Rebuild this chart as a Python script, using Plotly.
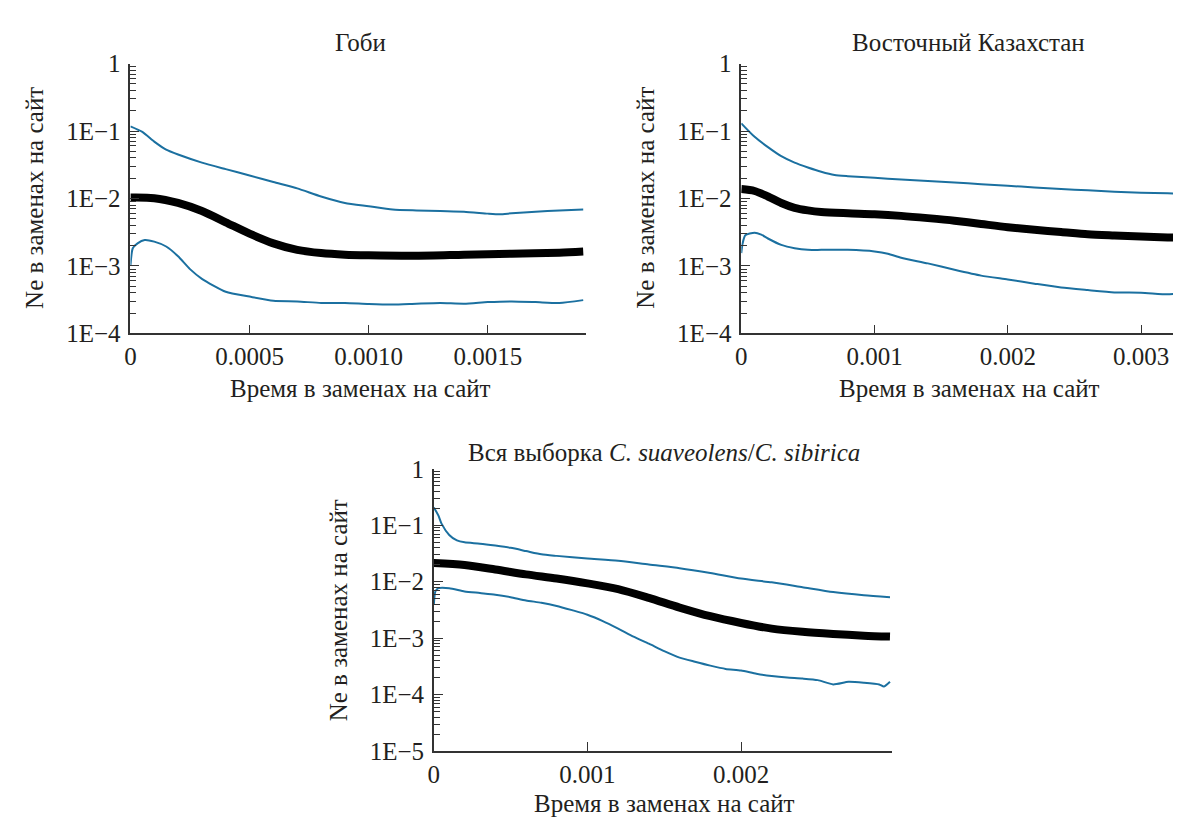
import plotly.graph_objects as go

# ---------------- data ----------------
# Panel 1: Гоби
gobi_med_t = [0, 0.0001, 0.0002, 0.0003, 0.0004, 0.0005, 0.0006, 0.0007, 0.0008, 0.0009,
              0.0010, 0.0012, 0.0014, 0.0016, 0.0018, 0.0019]
gobi_med = [0.0103, 0.0101, 0.00857, 0.0065, 0.00443, 0.00301, 0.00216, 0.00173, 0.00155, 0.00147,
            0.00144, 0.00142, 0.00147, 0.00152, 0.00157, 0.00163]
gobi_hi_t = [0, 0.00005, 0.0001, 0.00015, 0.0002, 0.0003, 0.0004, 0.0005, 0.0006, 0.0007, 0.0008,
             0.0009, 0.0010, 0.0011, 0.0012, 0.0013, 0.0014, 0.0015, 0.00155, 0.0016, 0.0017,
             0.0018, 0.0019]
gobi_hi = [0.117, 0.0968, 0.0695, 0.0528, 0.0448, 0.034, 0.0272, 0.0219, 0.0175, 0.0141, 0.0107,
           0.00857, 0.00767, 0.00687, 0.00665, 0.0065, 0.00637, 0.00596, 0.00583, 0.00603, 0.00637,
           0.00665, 0.00687]
gobi_lo_t = [0, 0.00001, 0.00003, 0.00006, 0.0001, 0.00015, 0.0002, 0.00025, 0.0003, 0.0004,
             0.0005, 0.0006, 0.0007, 0.0008, 0.0009, 0.0010, 0.0011, 0.0012, 0.0013, 0.0014,
             0.0015, 0.0016, 0.0017, 0.0018, 0.0019]
gobi_lo = [0.001, 0.00183, 0.00216, 0.00242, 0.00229, 0.00194, 0.00139, 0.000896, 0.000644,
           0.000414, 0.000351, 0.000304, 0.000298, 0.000282, 0.000282, 0.000272, 0.000267,
           0.000275, 0.000282, 0.000275, 0.000291, 0.000298, 0.000291, 0.000282, 0.000311]

# Panel 2: Восточный Казахстан
kz_med_t = [0, 0.0001, 0.0002, 0.0003, 0.0004, 0.0005, 0.0006, 0.0008, 0.001, 0.0012, 0.0014,
            0.0016, 0.0018, 0.002, 0.0022, 0.0024, 0.0026, 0.0028, 0.003, 0.0032, 0.00336]
kz_med = [0.01377, 0.0129, 0.0107, 0.00857, 0.00726, 0.00665, 0.0063, 0.00603, 0.00583, 0.00552,
          0.00511, 0.00468, 0.00419, 0.00375, 0.00343, 0.00318, 0.00294, 0.00282, 0.00272,
          0.00264, 0.00261]
kz_hi_t = [0, 0.0001, 0.0002, 0.0003, 0.0004, 0.0005, 0.0006, 0.0007, 0.0008, 0.001, 0.0012,
           0.0014, 0.0016, 0.0018, 0.002, 0.0022, 0.0024, 0.0026, 0.0028, 0.003, 0.0032, 0.00336]
kz_hi = [0.130, 0.082, 0.0577, 0.0424, 0.034, 0.0288, 0.0249, 0.0223, 0.0214, 0.0202, 0.0191,
         0.0181, 0.0172, 0.0163, 0.0154, 0.0146, 0.0138, 0.0132, 0.0126, 0.0122, 0.0119, 0.0119]
kz_lo_t = [0, 0.00001, 0.00003, 0.0001, 0.00015, 0.0002, 0.0003, 0.0004, 0.0005, 0.0006, 0.0008,
           0.001, 0.0011, 0.0012, 0.0014, 0.0016, 0.0018, 0.002, 0.0022, 0.0024, 0.0026, 0.0028,
           0.003, 0.0032, 0.0033, 0.00336]
kz_lo = [0.00155, 0.00216, 0.00285, 0.00311, 0.00291, 0.00255, 0.00205, 0.00183, 0.00173,
         0.00173, 0.00173, 0.00164, 0.00152, 0.00132, 0.00109, 0.000877, 0.000718, 0.000629,
         0.000546, 0.000478, 0.000438, 0.000405, 0.000401, 0.000379, 0.000392, 0.000363]

# Panel 3: вся выборка
all_med_t = [0, 0.0002, 0.0004, 0.0006, 0.0008, 0.001, 0.0012, 0.0014, 0.0016, 0.0018, 0.002,
             0.0022, 0.0024, 0.0026, 0.0028, 0.00297]
all_med = [0.0214, 0.0198, 0.0165, 0.0135, 0.0114, 0.00936, 0.0074, 0.00518, 0.00349, 0.00245,
           0.00186, 0.00148, 0.0013, 0.00119, 0.00111, 0.00107]
all_hi_t = [0, 0.00003, 0.00005, 0.0001, 0.00015, 0.0002, 0.0003, 0.0004, 0.0005, 0.0006, 0.0007,
            0.0008, 0.001, 0.0012, 0.0014, 0.0016, 0.0018, 0.002, 0.0022, 0.0024, 0.0026, 0.0028,
            0.00297]
all_hi = [0.206, 0.148, 0.107, 0.0674, 0.0539, 0.0498, 0.0472, 0.0436, 0.0398, 0.0349, 0.0306,
          0.0287, 0.0258, 0.0235, 0.0201, 0.0174, 0.0143, 0.0114, 0.00975, 0.008, 0.00656,
          0.00575, 0.00532]
all_lo_t = [0, 0.00001, 0.00003, 0.0001, 0.0002, 0.0003, 0.0004, 0.0005, 0.0006, 0.0007, 0.0008,
            0.0009, 0.001, 0.0011, 0.0012, 0.0013, 0.0014, 0.0015, 0.0016, 0.0017, 0.0018, 0.0019,
            0.002, 0.0021, 0.0022, 0.0023, 0.0024, 0.0025, 0.0026, 0.0027, 0.0028, 0.0029,
            0.00293, 0.00297]
all_lo = [0.00398, 0.00674, 0.00769, 0.00769, 0.00674, 0.00631, 0.0059, 0.00532, 0.00466, 0.00425,
          0.00373, 0.00314, 0.00261, 0.00201, 0.00148, 0.00107, 0.0008, 0.00059, 0.000454,
          0.000383, 0.000327, 0.000286, 0.000268, 0.000235, 0.000214, 0.000201, 0.000193,
          0.000181, 0.000152, 0.000169, 0.000163, 0.000152, 0.000139, 0.000169]

titles = ["Гоби", "Восточный Казахстан",
          "Вся выборка <i>C. suaveolens</i>/<i>C. sibirica</i>"]
x_title = "Время в заменах на сайт"
y_title = "Ne в заменах на сайт"

y_vals_4 = [1, 0.1, 0.01, 0.001, 0.0001]
y_text_4 = ["1", "1E−1", "1E−2", "1E−3", "1E−4"]
y_vals_5 = [1, 0.1, 0.01, 0.001, 0.0001, 0.00001]
y_text_5 = ["1", "1E−1", "1E−2", "1E−3", "1E−4", "1E−5"]

x1_vals = [0, 0.0005, 0.0010, 0.0015]
x1_text = ["0", "0.0005", "0.0010", "0.0015"]
x2_vals = [0, 0.001, 0.002, 0.003]
x2_text = ["0", "0.001", "0.002", "0.003"]
x3_vals = [0, 0.001, 0.002]
x3_text = ["0", "0.001", "0.002"]

# ---------------- styling ----------------
W, H = 1181, 821
FONT = "Liberation Serif, DejaVu Serif, serif"
TXT = "#231f20"
AX = "#333333"
BLUE = "#1b70a0"
FS = 25


def minor_vals(lo_exp, hi_exp):
    return [m * 10.0 ** e for e in range(lo_exp, hi_exp) for m in range(2, 10)]


def yaxis(dom, rng, vals, text, anchor):
    return dict(type="log", range=rng, domain=dom, anchor=anchor,
                showline=True, linecolor=AX, linewidth=1.6,
                ticks="inside", ticklen=9, tickwidth=1.3, tickcolor=AX,
                tickmode="array", tickvals=vals, ticktext=text,
                tickfont=dict(family=FONT, size=FS, color=TXT),
                ticklabelstandoff=3,
                showgrid=False, zeroline=False,
                minor=dict(ticks="inside", ticklen=6, tickwidth=1.1, tickcolor=AX,
                           tickmode="array", tickvals=minor_vals(rng[0], rng[1]),
                           showgrid=False))


def xaxis(dom, rng, vals, text, anchor):
    return dict(range=rng, domain=dom, anchor=anchor,
                showline=True, linecolor=AX, linewidth=1.6,
                ticks="inside", ticklen=9, tickwidth=1.3, tickcolor=AX,
                tickmode="array", tickvals=vals, ticktext=text,
                tickfont=dict(family=FONT, size=FS, color=TXT),
                ticklabelstandoff=0,
                showgrid=False, zeroline=False)


def px(x):
    return x / W


def py(y):
    return 1 - y / H


fig = go.Figure()

panels = [
    ("x", "y", gobi_med_t, gobi_med, gobi_hi_t, gobi_hi, gobi_lo_t, gobi_lo),
    ("x2", "y2", kz_med_t, kz_med, kz_hi_t, kz_hi, kz_lo_t, kz_lo),
    ("x3", "y3", all_med_t, all_med, all_hi_t, all_hi, all_lo_t, all_lo),
]
for xa, ya, mt, mv, ht, hv, lt, lv in panels:
    fig.add_trace(go.Scatter(x=ht, y=hv, xaxis=xa, yaxis=ya, mode="lines",
                             line=dict(color=BLUE, width=2, shape="spline", smoothing=0.6),
                             showlegend=False, hoverinfo="skip"))
    fig.add_trace(go.Scatter(x=lt, y=lv, xaxis=xa, yaxis=ya, mode="lines",
                             line=dict(color=BLUE, width=2, shape="spline", smoothing=0.6),
                             showlegend=False, hoverinfo="skip"))
    fig.add_trace(go.Scatter(x=mt, y=mv, xaxis=xa, yaxis=ya, mode="lines",
                             line=dict(color="#000000", width=8, shape="spline", smoothing=0.8),
                             showlegend=False, hoverinfo="skip"))

d1x = [px(117), px(575)]
d2x = [px(731), 1.0]
d3x = [px(422), px(882)]
dty = [py(323), py(44)]
dby = [py(755), py(463)]

fig.update_layout(
    width=W, height=H, autosize=False,
    margin=dict(l=0, r=0, t=0, b=0),
    paper_bgcolor="white", plot_bgcolor="white",
    font=dict(family=FONT, size=FS, color=TXT),
    xaxis=xaxis(d1x, [0, 0.001912], x1_vals, x1_text, "y"),
    yaxis=yaxis(dty, [-4, 0], y_vals_4, y_text_4, "x"),
    xaxis2=xaxis(d2x, [0, 0.00336], x2_vals, x2_text, "y2"),
    yaxis2=yaxis(dty, [-4, 0], y_vals_4, y_text_4, "x2"),
    xaxis3=xaxis(d3x, [0, 0.00298], x3_vals, x3_text, "y3"),
    yaxis3=yaxis(dby, [-5, 0], y_vals_5, y_text_5, "x3"),
)

ann = []
title_pos = [(348, 22), (959, 22), (653, 446)]
xt_pos = [(348, 380), (960, 380), (654, 809)]
yt_pos = [(21, 183), (635, 183), (327, 609)]
for t, (tx, ty) in zip(titles, title_pos):
    ann.append(dict(text=t, x=px(tx), y=py(ty), xref="paper", yref="paper",
                    xanchor="center", yanchor="middle", showarrow=False,
                    font=dict(family=FONT, size=FS, color=TXT)))
for (tx, ty) in xt_pos:
    ann.append(dict(text=x_title, x=px(tx), y=py(ty), xref="paper", yref="paper",
                    xanchor="center", yanchor="middle", showarrow=False,
                    font=dict(family=FONT, size=FS, color=TXT)))
for (tx, ty) in yt_pos:
    ann.append(dict(text=y_title, x=px(tx), y=py(ty), xref="paper", yref="paper",
                    xanchor="center", yanchor="middle", showarrow=False, textangle=-90,
                    font=dict(family=FONT, size=FS, color=TXT)))
fig.update_layout(annotations=ann)

fig.write_html("out.html")
